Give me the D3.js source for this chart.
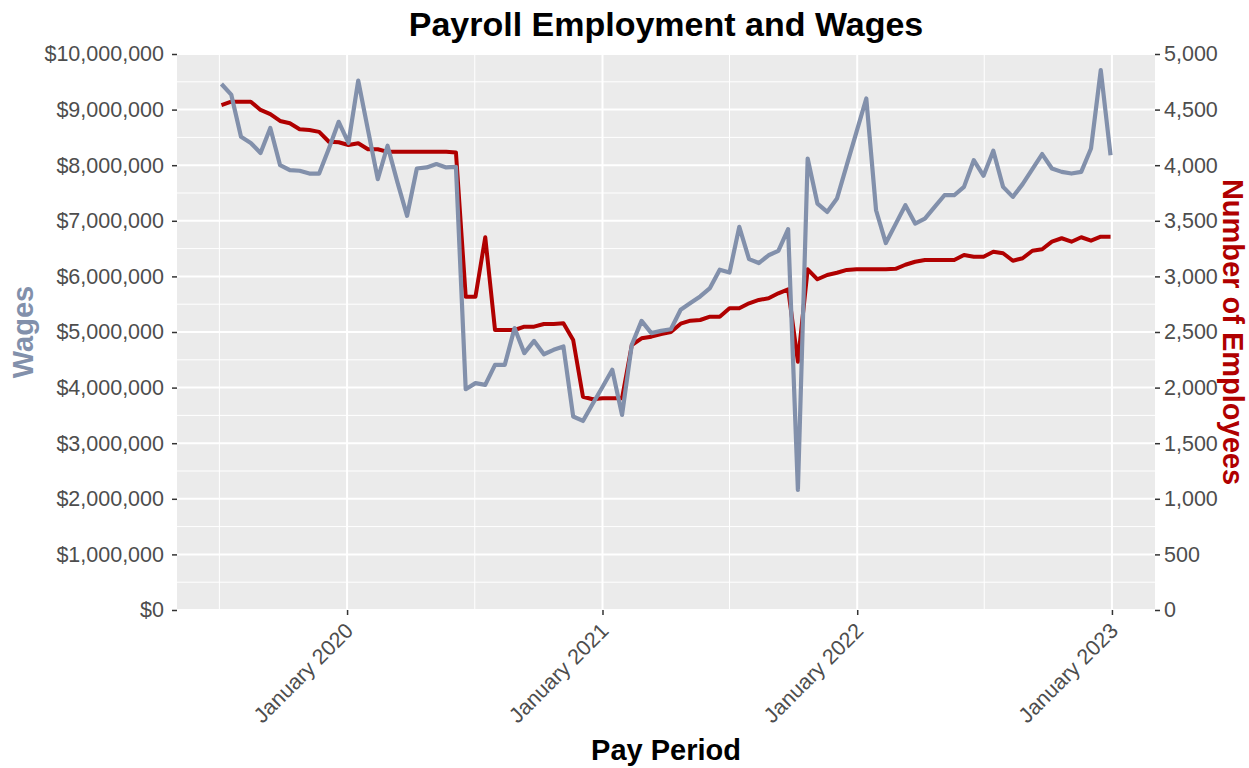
<!DOCTYPE html>
<html>
<head>
<meta charset="utf-8">
<script src="https://cdn.jsdelivr.net/npm/d3@7"></script>
<style>
body { margin: 0; background: #fff; }
svg { font-family: "Liberation Sans", Arial, sans-serif; }
</style>
</head>
<body>
<svg width="1249" height="768"></svg>
<script>
// data: biweekly pay periods
const payPeriods = [
    "2019-07-05", "2019-07-19", "2019-08-02", "2019-08-16", "2019-08-30", "2019-09-13", "2019-09-27",
    "2019-10-11", "2019-10-25", "2019-11-08", "2019-11-22", "2019-12-06", "2019-12-20",
    "2020-01-03", "2020-01-17", "2020-01-31", "2020-02-14", "2020-02-28", "2020-03-13", "2020-03-27",
    "2020-04-10", "2020-04-24", "2020-05-08", "2020-05-22", "2020-06-05", "2020-06-19", "2020-07-03",
    "2020-07-17", "2020-07-31", "2020-08-14", "2020-08-28", "2020-09-11", "2020-09-25", "2020-10-09",
    "2020-10-23", "2020-11-06", "2020-11-20", "2020-12-04", "2020-12-18",
    "2021-01-01", "2021-01-15", "2021-01-29", "2021-02-12", "2021-02-26", "2021-03-12", "2021-03-26",
    "2021-04-09", "2021-04-23", "2021-05-07", "2021-05-21", "2021-06-04", "2021-06-18", "2021-07-02",
    "2021-07-16", "2021-07-30", "2021-08-13", "2021-08-27", "2021-09-10", "2021-09-24", "2021-10-08",
    "2021-10-22", "2021-11-05", "2021-11-19", "2021-12-03", "2021-12-17", "2021-12-31",
    "2022-01-14", "2022-01-28", "2022-02-11", "2022-02-25", "2022-03-11", "2022-03-25", "2022-04-08",
    "2022-04-22", "2022-05-06", "2022-05-20", "2022-06-03", "2022-06-17", "2022-07-01", "2022-07-15",
    "2022-07-29", "2022-08-12", "2022-08-26", "2022-09-09", "2022-09-23", "2022-10-07", "2022-10-21",
    "2022-11-04", "2022-11-18", "2022-12-02", "2022-12-16", "2022-12-30"
];

// total wages per pay period, in dollars
const wages = [
    9460000, 9270000, 8510000, 8400000, 8220000, 8670000, 8000000, 7910000, 7900000, 7850000,
    7850000, 8300000, 8780000, 8400000, 9520000, 8630000, 7750000, 8350000, 7700000, 7090000,
    7940000, 7960000, 8020000, 7960000, 7970000, 3970000, 4080000, 4050000, 4410000, 4410000,
    5070000, 4620000, 4840000, 4600000, 4680000, 4740000, 3480000, 3400000, 3710000, 4010000,
    4320000, 3510000, 4770000, 5200000, 4980000, 5020000, 5050000, 5400000, 5520000, 5640000,
    5790000, 6120000, 6070000, 6890000, 6310000, 6240000, 6380000, 6460000, 6850000, 2160000,
    8120000, 7310000, 7160000, 7400000, 8000000, 8600000, 9200000, 7190000, 6600000, 6940000,
    7280000, 6950000, 7040000, 7250000, 7460000, 7460000, 7610000, 8090000, 7810000, 8260000,
    7610000, 7430000, 7660000, 7930000, 8200000, 7940000, 7880000, 7850000, 7880000, 8300000,
    9710000, 8180000
];

// number of employees per pay period
const employees = [
    4541, 4571, 4571, 4571, 4497, 4460, 4398, 4377, 4323, 4317,
    4300, 4211, 4206, 4182, 4197, 4143, 4143, 4120, 4120, 4120,
    4120, 4120, 4120, 4120, 4115, 2818, 2818, 3352, 2518, 2518,
    2518, 2548, 2548, 2572, 2572, 2578, 2428, 1918, 1895, 1904,
    1904, 1904, 2383, 2443, 2458, 2482, 2500, 2575, 2602, 2608,
    2638, 2638, 2713, 2713, 2758, 2788, 2803, 2848, 2884, 2233,
    3064, 2974, 3013, 3033, 3058, 3064, 3064, 3064, 3064, 3068,
    3105, 3132, 3148, 3148, 3148, 3148, 3192, 3177, 3177, 3222,
    3208, 3141, 3163, 3231, 3244, 3312, 3343, 3312, 3352, 3321,
    3357, 3357
];

const wageTicks = [0, 1000000, 2000000, 3000000, 4000000, 5000000, 6000000, 7000000, 8000000, 9000000, 10000000];
const employeeTicks = [0, 500, 1000, 1500, 2000, 2500, 3000, 3500, 4000, 4500, 5000];
const yearTicks = ["2020-01-01", "2021-01-01", "2022-01-01", "2023-01-01"];
const midYearTicks = ["2019-07-02", "2020-07-02", "2021-07-02", "2022-07-02"];

const WAGE_COLOR = "#8290AB";
const EMP_COLOR = "#B00000";

var parseDate = d3.timeParse("%Y-%m-%d");

var rows = payPeriods.map(function (p, i) {
    return { date: parseDate(p), wages: wages[i], employees: employees[i] };
});

var svg = d3.select("svg");
var panelLeft = 177, panelRight = 1155, panelTop = 54, panelBottom = 610;

// x domain gets ggplot's 5% padding on both sides
var first = rows[0].date.getTime(),
    last = rows[rows.length - 1].date.getTime(),
    pad = (last - first) * 0.05;

var xScale = d3.scaleTime().domain([new Date(first - pad), new Date(last + pad)]).range([panelLeft, panelRight]),
    yScale = d3.scaleLinear().domain([0, 10000000]).range([panelBottom, panelTop]),
    y2Scale = d3.scaleLinear().domain([0, 5000]).range([panelBottom, panelTop]);

// panel background
svg.append("rect")
    .attr("x", panelLeft)
    .attr("y", panelTop)
    .attr("width", panelRight - panelLeft)
    .attr("height", panelBottom - panelTop)
    .attr("fill", "#EBEBEB");

// minor grid
var minorY = d3.range(500000, 10000000, 1000000);
svg.append("g")
    .selectAll("line")
    .data(minorY)
    .enter()
    .append("line")
    .attr("x1", panelLeft)
    .attr("x2", panelRight)
    .attr("y1", d => yScale(d))
    .attr("y2", d => yScale(d))
    .attr("stroke", "#fff")
    .attr("stroke-width", 1);

svg.append("g")
    .selectAll("line")
    .data(midYearTicks.map(parseDate))
    .enter()
    .append("line")
    .attr("x1", d => xScale(d))
    .attr("x2", d => xScale(d))
    .attr("y1", panelTop)
    .attr("y2", panelBottom)
    .attr("stroke", "#fff")
    .attr("stroke-width", 1);

// major grid
svg.append("g")
    .selectAll("line")
    .data(wageTicks)
    .enter()
    .append("line")
    .attr("x1", panelLeft)
    .attr("x2", panelRight)
    .attr("y1", d => yScale(d))
    .attr("y2", d => yScale(d))
    .attr("stroke", "#fff")
    .attr("stroke-width", 2);

svg.append("g")
    .selectAll("line")
    .data(yearTicks.map(parseDate))
    .enter()
    .append("line")
    .attr("x1", d => xScale(d))
    .attr("x2", d => xScale(d))
    .attr("y1", panelTop)
    .attr("y2", panelBottom)
    .attr("stroke", "#fff")
    .attr("stroke-width", 2);

// lines
var empLine = d3.line()
    .x(d => xScale(d.date))
    .y(d => y2Scale(d.employees));

var wageLine = d3.line()
    .x(d => xScale(d.date))
    .y(d => yScale(d.wages));

svg.append("path")
    .datum(rows)
    .attr("d", empLine)
    .attr("fill", "none")
    .attr("stroke", EMP_COLOR)
    .attr("stroke-width", 4)
    .attr("stroke-linejoin", "round");

svg.append("path")
    .datum(rows)
    .attr("d", wageLine)
    .attr("fill", "none")
    .attr("stroke", WAGE_COLOR)
    .attr("stroke-width", 4.2)
    .attr("stroke-linejoin", "round");

// axes
function styleAxis(g) {
    g.select(".domain").remove();
    g.selectAll(".tick line").attr("stroke", "#333").attr("stroke-width", 1.5);
    g.selectAll(".tick text")
        .attr("fill", "#4D4D4D")
        .style("font-size", "21.5px");
}

svg.append("g")
    .attr("transform", "translate(" + panelLeft + ",0)")
    .call(d3.axisLeft(yScale).tickValues(wageTicks).tickFormat(d3.format("$,")).tickSize(5).tickPadding(8))
    .call(styleAxis);

svg.append("g")
    .attr("transform", "translate(" + panelRight + ",0)")
    .call(d3.axisRight(y2Scale).tickValues(employeeTicks).tickFormat(d3.format(",")).tickSize(5).tickPadding(4))
    .call(styleAxis);

var xAxis = svg.append("g")
    .attr("transform", "translate(0," + panelBottom + ")")
    .call(d3.axisBottom(xScale).tickValues(yearTicks.map(parseDate)).tickFormat(d3.timeFormat("%B %Y")).tickSize(5))
    .call(styleAxis);

xAxis.selectAll(".tick text")
    .attr("text-anchor", "end")
    .attr("dy", null)
    .attr("y", 0)
    .attr("transform", "translate(7,22) rotate(-45)");

// titles
svg.append("text")
    .attr("x", (panelLeft + panelRight) / 2)
    .attr("y", 36)
    .attr("text-anchor", "middle")
    .style("font-size", "34px")
    .style("font-weight", "bold")
    .text("Payroll Employment and Wages");

svg.append("text")
    .attr("x", (panelLeft + panelRight) / 2)
    .attr("y", 760)
    .attr("text-anchor", "middle")
    .style("font-size", "29px")
    .style("font-weight", "bold")
    .text("Pay Period");

svg.append("text")
    .attr("text-anchor", "middle")
    .attr("transform", "translate(33," + (panelTop + panelBottom) / 2 + ")rotate(-90)")
    .attr("fill", WAGE_COLOR)
    .style("font-size", "29px")
    .style("font-weight", "bold")
    .text("Wages");

svg.append("text")
    .attr("text-anchor", "middle")
    .attr("transform", "translate(1223," + (panelTop + panelBottom) / 2 + ")rotate(90)")
    .attr("fill", EMP_COLOR)
    .style("font-size", "29px")
    .style("font-weight", "bold")
    .text("Number of Employees");
</script>
</body>
</html>
